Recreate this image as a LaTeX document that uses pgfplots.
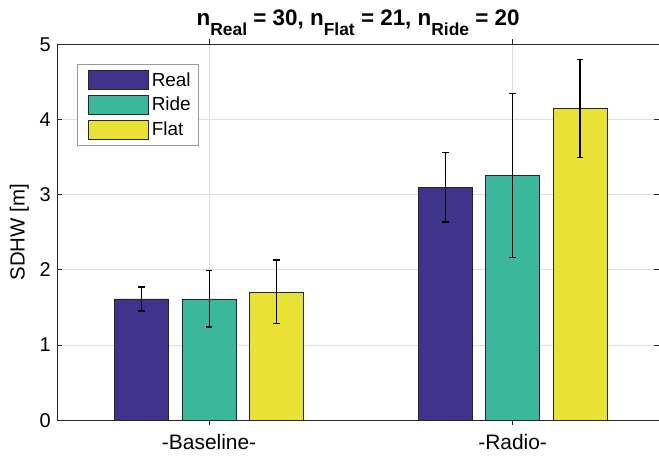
\documentclass[border=0pt]{standalone}
\usepackage{fontspec}
\setmainfont{Liberation Sans}
\usepackage{pgfplots}
\pgfplotsset{compat=1.18}
\usetikzlibrary{calc}
\definecolor{cReal}{RGB}{64,51,139}
\definecolor{cRide}{RGB}{59,184,155}
\definecolor{cFlat}{RGB}{233,225,52}
\definecolor{axc}{RGB}{38,38,38}
\definecolor{gridc}{RGB}{223,223,223}
\newcommand{\sub}[1]{\raisebox{-10.3bp}{\fontsize{17.5}{17.5}\selectfont #1}}
\pgfplotstableread{
x y e
1 1.613 0.160
2 3.097 0.460
}\real
\pgfplotstableread{
x y e
1 1.613 0.373
2 3.253 1.090
}\ride
\pgfplotstableread{
x y e
1 1.707 0.425
2 4.147 0.653
}\flat
\begin{document}
\begin{tikzpicture}
\begin{axis}[
  scale only axis, width=601.7bp, height=376bp,
  xmin=0.5, xmax=2.482, ymin=0, ymax=5,
  xtick={1,2}, xticklabels={-Baseline-,-Radio-},
  ytick={0,1,2,3,4,5},
  tick align=inside, xtick pos=both, ytick pos=both,
  major tick length=5bp,
  axis line style={axc, line width=0.8bp},
  tick style={axc, line width=0.8bp},
  xmajorgrids, ymajorgrids,
  grid style={gridc, line width=0.8bp},
  /pgf/number format/assume math mode=true,
  tick label style={font=\fontsize{20}{20}\selectfont, text=black},
  yticklabel style={xshift=-3bp},
  xticklabel style={yshift=-6bp, font=\fontsize{21}{21}\selectfont},
  ylabel={SDHW [m]},
  ylabel style={font=\fontsize{20.5}{20.5}\selectfont, yshift=4bp},
  title={\bfseries n\sub{Real} = 30, n\sub{Flat} = 21, n\sub{Ride} = 20},
  title style={font=\bfseries\fontsize{22.5}{22.5}\selectfont, yshift=-1bp},
  ybar, bar width=54bp,
  legend image code/.code={\path (-6bp,0bp); \draw[#1, line width=0.8bp] (0bp,-9.5bp) rectangle (60bp,9.5bp);},
  legend style={at={(0.032,0.947)}, anchor=north west, draw=gray!80, line width=0.8bp,
    font=\fontsize{19}{19}\selectfont, row sep=5bp, inner xsep=5bp, inner ysep=5.5bp,
    nodes={inner xsep=3bp}},
  legend cell align=left,
  error bars/error bar style={black, line width=1.1bp},
  error bars/error mark options={black, line width=1.1bp, mark size=3.4bp, rotate=90},
]
\addplot[bar shift=-67.3bp, fill=cReal, draw=axc, line width=0.8bp,
  error bars/.cd, y dir=both, y explicit] table[x=x, y=y, y error=e] {\real};
\addlegendentry{Real}
\addplot[bar shift=0bp, fill=cRide, draw=axc, line width=0.8bp,
  error bars/.cd, y dir=both, y explicit] table[x=x, y=y, y error=e] {\ride};
\addlegendentry{Ride}
\addplot[bar shift=67.3bp, fill=cFlat, draw=axc, line width=0.8bp,
  error bars/.cd, y dir=both, y explicit] table[x=x, y=y, y error=e] {\flat};
\addlegendentry{Flat}
\end{axis}
\pgfresetboundingbox
\path ($(current axis.south west)+(-57.3bp,-39.7bp)$) rectangle ($(current axis.north east)+(0bp,44.3bp)$);
\end{tikzpicture}
\end{document}
